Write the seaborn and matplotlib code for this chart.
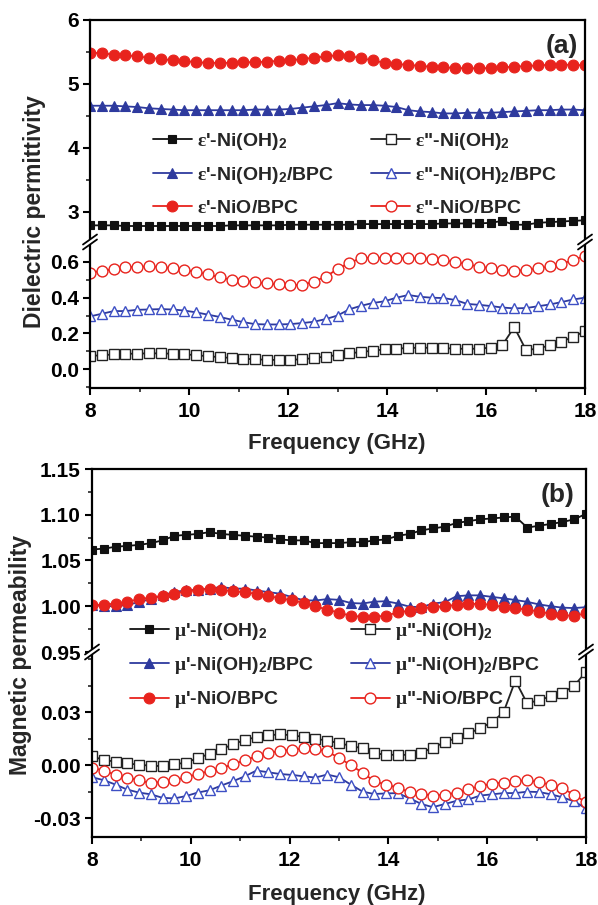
import matplotlib
matplotlib.use("Agg")
import matplotlib.pyplot as plt
import seaborn as sns
import numpy as np
from matplotlib.lines import Line2D
from matplotlib.patches import Polygon
from matplotlib.ticker import MultipleLocator

# ---------------- data ----------------
freq = [8.00, 8.24, 8.48, 8.71, 8.95, 9.19, 9.43, 9.67, 9.90, 10.14, 10.38,
        10.62, 10.86, 11.10, 11.33, 11.57, 11.81, 12.05, 12.29, 12.52, 12.76,
        13.00, 13.24, 13.48, 13.71, 13.95, 14.19, 14.43, 14.67, 14.90, 15.14,
        15.38, 15.62, 15.86, 16.10, 16.33, 16.57, 16.81, 17.05, 17.29, 17.52,
        17.76, 18.00]

# (a) permittivity
eps1_nioh = [2.79, 2.79, 2.79, 2.78, 2.78, 2.78, 2.78, 2.78, 2.78, 2.78, 2.78,
             2.78, 2.79, 2.79, 2.79, 2.79, 2.79, 2.80, 2.80, 2.80, 2.80,
             2.80, 2.80, 2.81, 2.81, 2.81, 2.81, 2.81, 2.81, 2.81, 2.82,
             2.82, 2.82, 2.82, 2.83, 2.86, 2.80, 2.80, 2.83, 2.84, 2.85,
             2.86, 2.87]
eps1_niohbpc = [4.66, 4.66, 4.66, 4.65, 4.64, 4.62, 4.61, 4.60, 4.59, 4.59, 4.59,
                4.59, 4.59, 4.59, 4.60, 4.60, 4.60, 4.61, 4.63, 4.65, 4.67,
                4.70, 4.68, 4.67, 4.67, 4.66, 4.64, 4.59, 4.57, 4.56, 4.54,
                4.54, 4.55, 4.55, 4.55, 4.56, 4.57, 4.58, 4.59, 4.59, 4.60,
                4.60, 4.59]
eps1_niobpc = [5.49, 5.48, 5.46, 5.45, 5.43, 5.41, 5.39, 5.37, 5.36, 5.34, 5.33,
               5.33, 5.33, 5.34, 5.34, 5.35, 5.36, 5.37, 5.39, 5.41, 5.43,
               5.45, 5.44, 5.40, 5.37, 5.33, 5.31, 5.30, 5.28, 5.27, 5.26,
               5.25, 5.245, 5.245, 5.25, 5.26, 5.27, 5.28, 5.29, 5.30, 5.30,
               5.30, 5.29]
eps2_nioh = [0.073, 0.078, 0.082, 0.085, 0.087, 0.088, 0.088, 0.086, 0.083, 0.078, 0.072,
             0.067, 0.062, 0.058, 0.055, 0.052, 0.051, 0.052, 0.055, 0.062, 0.070,
             0.079, 0.088, 0.096, 0.103, 0.110, 0.115, 0.118, 0.120, 0.119, 0.117,
             0.115, 0.113, 0.115, 0.120, 0.134, 0.235, 0.106, 0.115, 0.133, 0.153,
             0.180, 0.213]
eps2_niohbpc = [0.295, 0.310, 0.325, 0.325, 0.332, 0.334, 0.336, 0.334, 0.328, 0.318, 0.305,
                0.292, 0.277, 0.263, 0.252, 0.250, 0.250, 0.252, 0.258, 0.265, 0.280,
                0.300, 0.335, 0.355, 0.370, 0.380, 0.400, 0.415, 0.405, 0.400, 0.398,
                0.387, 0.365, 0.360, 0.353, 0.345, 0.340, 0.342, 0.352, 0.362, 0.375,
                0.390, 0.400]
eps2_niobpc = [0.540, 0.550, 0.560, 0.570, 0.573, 0.575, 0.572, 0.565, 0.555, 0.545, 0.530,
               0.515, 0.500, 0.494, 0.487, 0.480, 0.474, 0.469, 0.472, 0.490, 0.518,
               0.560, 0.595, 0.622, 0.625, 0.623, 0.622, 0.622, 0.620, 0.618, 0.610,
               0.600, 0.587, 0.574, 0.565, 0.556, 0.550, 0.555, 0.564, 0.575, 0.590,
               0.610, 0.635]

# (b) permeability
mu1_nioh = [1.062, 1.063, 1.065, 1.066, 1.067, 1.069, 1.072, 1.077, 1.078, 1.079, 1.081,
            1.079, 1.078, 1.077, 1.076, 1.075, 1.073, 1.072, 1.072, 1.069, 1.069,
            1.069, 1.070, 1.070, 1.072, 1.073, 1.077, 1.079, 1.083, 1.085, 1.087,
            1.091, 1.093, 1.095, 1.096, 1.097, 1.098, 1.086, 1.088, 1.090, 1.092,
            1.095, 1.101]
mu1_niohbpc = [1.001, 1.0005, 0.9998, 1.0015, 1.0044, 1.008, 1.012, 1.0156, 1.0174, 1.018, 1.0193,
               1.021, 1.0193, 1.0192, 1.0172, 1.0155, 1.0137, 1.010, 1.0065, 1.0063, 1.0078,
               1.007, 1.0035, 1.003, 1.005, 1.0055, 1.003, 0.9995, 0.999, 1.003, 1.0044,
               1.011, 1.0119, 1.0119, 1.0102, 1.0087, 1.0068, 1.0048, 1.002, 1.000, 0.9985,
               0.998, 0.999]
mu1_niobpc = [1.001, 1.0017, 1.003, 1.0045, 1.008, 1.0093, 1.0113, 1.0138, 1.0163, 1.0176, 1.0192,
              1.018, 1.0163, 1.0153, 1.0135, 1.011, 1.0088, 1.0063, 1.0038, 1.000, 0.9963,
              0.993, 0.9895, 0.9885, 0.9885, 0.9897, 0.9933, 0.9952, 0.9978, 0.9989, 1.000,
              1.0015, 1.0025, 1.0026, 1.0015, 0.9989, 0.9978, 0.9963, 0.9941, 0.9918, 0.990,
              0.9897, 0.9922]
mu2_nioh = [0.005, 0.003, 0.002, 0.001, 0.0003, -0.0003, -0.0005, 0.0005, 0.0015, 0.004, 0.0065,
            0.009, 0.012, 0.0143, 0.016, 0.017, 0.0175, 0.017, 0.016, 0.015, 0.014,
            0.0125, 0.011, 0.0095, 0.007, 0.0058, 0.006, 0.0058, 0.007, 0.010, 0.013,
            0.0155, 0.018, 0.021, 0.0245, 0.030, 0.048, 0.035, 0.037, 0.039, 0.041,
            0.045, 0.053]
mu2_niohbpc = [-0.0068, -0.0085, -0.011, -0.0138, -0.0155, -0.0165, -0.0185, -0.0188, -0.0175, -0.0155, -0.0142,
               -0.0115, -0.009, -0.0062, -0.003, -0.004, -0.005, -0.0055, -0.0063, -0.007, -0.0053,
               -0.0068, -0.011, -0.015, -0.0163, -0.016, -0.0158, -0.0188, -0.022, -0.0238, -0.022,
               -0.0202, -0.0194, -0.0172, -0.0165, -0.0158, -0.0158, -0.015, -0.0152, -0.0165, -0.0182,
               -0.0205, -0.0245]
mu2_niobpc = [-0.0015, -0.003, -0.0055, -0.007, -0.0085, -0.0102, -0.0093, -0.0085, -0.0068, -0.005, -0.0033,
              -0.0015, 0.0005, 0.003, 0.005, 0.007, 0.008, 0.0088, 0.0095, 0.0092, 0.0078,
              0.0042, 0.000, -0.0043, -0.009, -0.011, -0.0127, -0.0153, -0.0163, -0.0172, -0.0168,
              -0.0155, -0.0136, -0.0118, -0.0105, -0.0098, -0.009, -0.0086, -0.0095, -0.0112, -0.013,
              -0.0168, -0.021]

labels_a = [r"$\mathrm{ε}$'-Ni(OH)$_\mathbf{2}$", r"$\mathrm{ε}$'-Ni(OH)$_\mathbf{2}$/BPC",
            r"$\mathrm{ε}$'-NiO/BPC", r'$\mathrm{ε}$"-Ni(OH)$_\mathbf{2}$',
            r'$\mathrm{ε}$"-Ni(OH)$_\mathbf{2}$/BPC', r'$\mathrm{ε}$"-NiO/BPC']
labels_b = [r"$\mathrm{μ}$'-Ni(OH)$_\mathbf{2}$", r"$\mathrm{μ}$'-Ni(OH)$_\mathbf{2}$/BPC",
            r"$\mathrm{μ}$'-NiO/BPC", r'$\mathrm{μ}$"-Ni(OH)$_\mathbf{2}$',
            r'$\mathrm{μ}$"-Ni(OH)$_\mathbf{2}$/BPC', r'$\mathrm{μ}$"-NiO/BPC']

# ---------------- style ----------------
sns.set_theme(style="ticks")
plt.rcParams["font.family"] = ["Liberation Sans", "DejaVu Sans"]
plt.rcParams["font.weight"] = "bold"
plt.rcParams["mathtext.fontset"] = "custom"
plt.rcParams["mathtext.rm"] = "Liberation Serif"
plt.rcParams["mathtext.it"] = "Liberation Serif:italic"
plt.rcParams["mathtext.bf"] = "Liberation Sans:bold"

BLACK = "#111111"
BLUE = "#2e3a9e"
RED = "#e8231d"
TICK_FS = 15
LAB_FS = 16
LEG_FS = 14

W, H = 598, 905
fig = plt.figure(figsize=(W / 100, H / 100), dpi=100)


def fbox(left, top, right, bottom):
    return [left / W, 1 - bottom / H, (right - left) / W, (bottom - top) / H]


def style_ax(ax, is_top):
    for s in ax.spines.values():
        s.set_linewidth(1.6)
        s.set_color("black")
    ax.tick_params(axis="both", which="major", direction="out", length=5, width=1.5,
                   labelsize=TICK_FS, pad=3, colors="black")
    ax.tick_params(axis="both", which="minor", direction="out", length=3, width=1.2)
    ax.tick_params(right=False, top=False, which="both")
    for lab in ax.get_xticklabels() + ax.get_yticklabels():
        lab.set_fontweight("bold")
    if is_top:
        ax.spines["bottom"].set_visible(False)
        ax.tick_params(axis="x", which="both", bottom=False, labelbottom=False)
    else:
        ax.spines["top"].set_visible(False)


def draw(ax, y, color, marker, filled, ms, mec=None):
    sns.lineplot(x=freq, y=y, ax=ax, color=color, linewidth=1.3, marker=marker,
                 markersize=ms, markerfacecolor=color if filled else "white",
                 markeredgecolor=mec or color, markeredgewidth=1.0 if not filled else 0.8,
                 sort=False, legend=False, estimator=None)
    return ax.lines[-1]


def break_marks(xpx, ypx):
    # white gap + two slanted strokes across the spine
    dx, dy, g = 7, 5, 2.5
    to_in = lambda px, py: (px / 100, (H - py) / 100)
    poly = Polygon([to_in(xpx - dx, ypx + dy + g), to_in(xpx + dx, ypx - dy + g),
                    to_in(xpx + dx, ypx - dy - g), to_in(xpx - dx, ypx + dy - g)],
                   closed=True, facecolor="white", edgecolor="none",
                   transform=fig.dpi_scale_trans, zorder=20)
    fig.add_artist(poly)
    for off in (g, -g):
        p0 = to_in(xpx - dx, ypx + dy + off)
        p1 = to_in(xpx + dx, ypx - dy + off)
        fig.add_artist(Line2D([p0[0], p1[0]], [p0[1], p1[1]], color="black", lw=1.3,
                              transform=fig.dpi_scale_trans, zorder=21))


def make_panel(top, brk, bottom, left, right, up_lim, lo_lim, up_ticks, lo_ticks,
               up_minor, lo_minor, fmt_up, fmt_lo):
    ax_up = fig.add_axes(fbox(left, top, right, brk))
    ax_lo = fig.add_axes(fbox(left, brk, right, bottom))
    for ax in (ax_up, ax_lo):
        ax.set_xlim(8, 18)
        ax.set_facecolor("white")
    ax_up.set_ylim(*up_lim)
    ax_lo.set_ylim(*lo_lim)
    ax_up.set_yticks(up_ticks)
    ax_lo.set_yticks(lo_ticks)
    ax_up.set_yticklabels([fmt_up.format(v) for v in up_ticks])
    ax_lo.set_yticklabels([fmt_lo.format(v) for v in lo_ticks])
    ax_up.yaxis.set_minor_locator(MultipleLocator(up_minor))
    ax_lo.yaxis.set_minor_locator(MultipleLocator(lo_minor))
    ax_lo.set_xticks([8, 10, 12, 14, 16, 18])
    ax_lo.set_xticklabels(["8", "10", "12", "14", "16", "18"])
    ax_lo.xaxis.set_minor_locator(MultipleLocator(1))
    ax_up.set_xticks([])
    style_ax(ax_up, True)
    style_ax(ax_lo, False)
    ax_lo.tick_params(axis="x", pad=5)
    for ax in (ax_up, ax_lo):
        ax.set_xlabel("")
        ax.set_ylabel("")
    break_marks(left, brk)
    break_marks(right, brk)
    return ax_up, ax_lo


leg_kw = dict(ncol=2, frameon=False, handlelength=2.0, handletextpad=0.25,
              labelspacing=0.68, borderpad=0, borderaxespad=0,
              prop={"weight": "bold", "size": LEG_FS})

# ---------------- panel (a) ----------------
a_up, a_lo = make_panel(20, 242, 388, 90, 585, (2.53, 6.0), (-0.106, 0.712),
                        [3, 4, 5, 6], [0.0, 0.2, 0.4, 0.6], 0.5, 0.1, "{:.0f}", "{:.1f}")
h = []
h.append(draw(a_up, eps1_nioh, BLACK, "s", True, 6.2))
h.append(draw(a_up, eps1_niohbpc, BLUE, "^", True, 7.2))
h.append(draw(a_up, eps1_niobpc, RED, "o", True, 7.8))
h.append(draw(a_lo, eps2_nioh, "#222222", "s", False, 6.8))
h.append(draw(a_lo, eps2_niohbpc, BLUE, "^", False, 7.8, mec="#3d4fc4"))
h.append(draw(a_lo, eps2_niobpc, RED, "o", False, 7.8))
fig.legend(h, labels_a, loc="upper left", bbox_to_anchor=(153 / W, 1 - 131 / H),
           columnspacing=1.9, **leg_kw)
fig.text(562 / W, 1 - 46 / H, "(a)", fontsize=19, fontweight="bold", ha="center", va="center")
fig.text(337 / W, 1 - 443 / H, "Frequency (GHz)", fontsize=LAB_FS, fontweight="bold",
         ha="center", va="center")
fig.text(35 / W, 1 - 212 / H, "Dielectric permittivity", fontsize=LAB_FS + 0.5,
         fontweight="bold", rotation=90, ha="center", va="center")

# ---------------- panel (b) ----------------
b_up, b_lo = make_panel(469, 652, 837, 92, 586, (0.95, 1.15), (-0.0407, 0.0642),
                        [0.95, 1.00, 1.05, 1.10, 1.15], [-0.03, 0.00, 0.03], 0.025, 0.015,
                        "{:.2f}", "{:.2f}")
hb = []
hb.append(draw(b_up, mu1_nioh, BLACK, "s", True, 6.2))
hb.append(draw(b_up, mu1_niohbpc, BLUE, "^", True, 7.2))
hb.append(draw(b_up, mu1_niobpc, RED, "o", True, 7.8))
hb.append(draw(b_lo, mu2_nioh, "#222222", "s", False, 6.8))
hb.append(draw(b_lo, mu2_niohbpc, BLUE, "^", False, 7.8, mec="#3d4fc4"))
hb.append(draw(b_lo, mu2_niobpc, RED, "o", False, 7.8))
fig.legend(hb, labels_b, loc="upper left", bbox_to_anchor=(130 / W, 1 - 621 / H),
           columnspacing=1.9, **leg_kw)
fig.text(558 / W, 1 - 495 / H, "(b)", fontsize=19, fontweight="bold", ha="center", va="center")
fig.text(337 / W, 1 - 894 / H, "Frequency (GHz)", fontsize=LAB_FS, fontweight="bold",
         ha="center", va="center")
fig.text(21 / W, 1 - 655 / H, "Magnetic permeability", fontsize=LAB_FS + 0.5,
         fontweight="bold", rotation=90, ha="center", va="center")

fig.savefig("out.png", dpi=100)
